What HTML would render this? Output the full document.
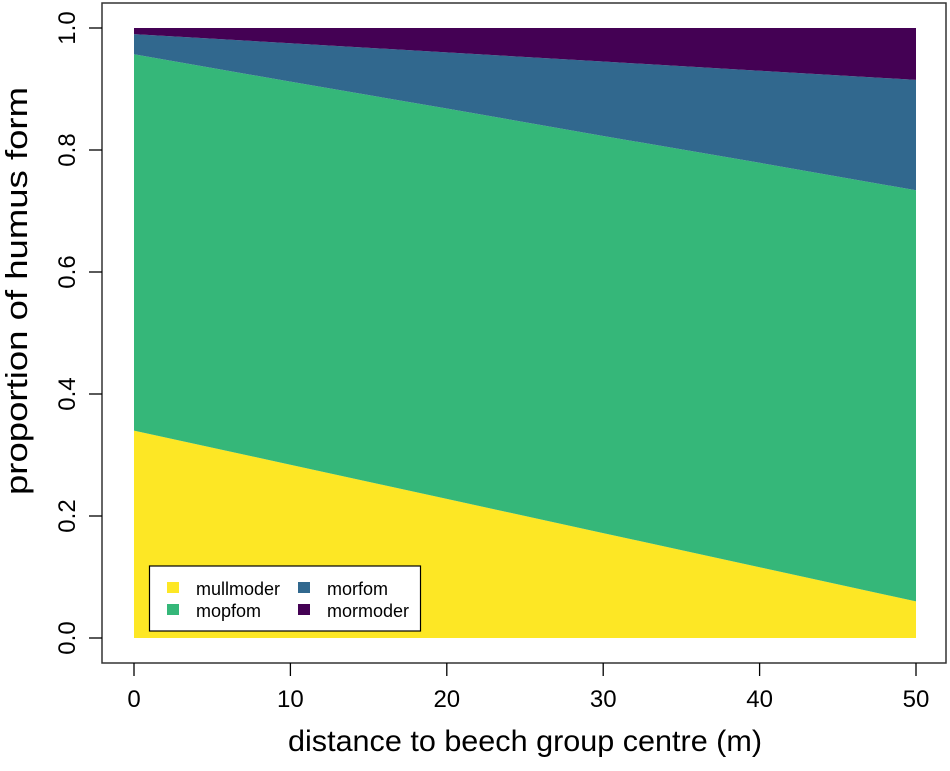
<!DOCTYPE html>
<html><head><meta charset="utf-8"><style>
body{margin:0;background:#fff;}
svg text{font-family:"Liberation Sans",Arial,sans-serif;fill:#000;}
</style></head><body>
<svg id="chart" width="950" height="766"></svg>
<script>
const distances=[0,10,20,30,40,50];
const mullmoder=[0.34,0.284,0.228,0.172,0.116,0.06];
const mopfom=[0.617,0.628,0.640,0.651,0.663,0.674];
const morfom=[0.033,0.063,0.092,0.122,0.151,0.181];
const mormoder=[0.01,0.025,0.04,0.055,0.07,0.085];
const xTicks=[0,10,20,30,40,50];
const yTicks=[0,0.2,0.4,0.6,0.8,1.0];
const yTickLabels=["0.0","0.2","0.4","0.6","0.8","1.0"];
const seriesNames=["mullmoder","mopfom","morfom","mormoder"];
const seriesColors=["#fde725","#35b779","#31688e","#440154"];

const NS="http://www.w3.org/2000/svg";
const svg=document.getElementById('chart');
const X=v=>134+(v-0)/50*(916-134);
const Y=v=>638-v*610;
function mk(t,a,p){const e=document.createElementNS(NS,t);for(const k in a)e.setAttribute(k,a[k]);(p||svg).appendChild(e);return e;}

const series=[mullmoder,mopfom,morfom,mormoder];
let base=distances.map(()=>0);
series.forEach((s,si)=>{
  const top=base.map((b,i)=>b+s[i]);
  let pts=distances.map((d,i)=>X(d)+','+Y(top[i]));
  for(let i=distances.length-1;i>=0;i--)pts.push(X(distances[i])+','+Y(base[i]));
  const p=mk('polygon',{points:pts.join(' '),fill:seriesColors[si]});
  
  
  base=top;
});

const box=mk('rect',{x:102,y:3,width:844,height:660,fill:'none',stroke:'#333','stroke-width':1.5});



xTicks.forEach(t=>{
  const l=mk('line',{x1:X(t),x2:X(t),y1:663,y2:676,stroke:'#000','stroke-width':1.3});
  
  
  const tx=mk('text',{x:X(t),y:707,'text-anchor':'middle','font-size':24});
  tx.textContent=t;
  
  
});
yTicks.forEach((t,i)=>{
  const l=mk('line',{x1:89,x2:102,y1:Y(t),y2:Y(t),stroke:'#000','stroke-width':1.3});
  
  
  const tx=mk('text',{x:0,y:0,'text-anchor':'middle','font-size':24,transform:`translate(75,${Y(t)}) rotate(-90)`});
  tx.textContent=yTickLabels[i];
  
  
});
const xt=mk('text',{x:525,y:751,'text-anchor':'middle','font-size':30,textLength:474,lengthAdjust:'spacingAndGlyphs'});
xt.textContent='distance to beech group centre (m)';


const yt=mk('text',{x:0,y:0,'text-anchor':'middle','font-size':31,textLength:408,lengthAdjust:'spacingAndGlyphs',transform:'translate(27,291) rotate(-90)'});
yt.textContent='proportion of humus form';



const lg=mk('g',{});


mk('rect',{x:149.5,y:566,width:271,height:65,fill:'#fff',stroke:'#000','stroke-width':1.2},lg);
const pos=[[167,589],[167,611],[298,589],[298,611]];
seriesNames.forEach((n,i)=>{
  const g=mk('g',{},lg);
  
  
  mk('rect',{x:pos[i][0],y:pos[i][1]-7,width:12,height:11,fill:seriesColors[i]},g);
  const t=mk('text',{x:pos[i][0]+29,y:pos[i][1]+6,'font-size':18},g);
  t.textContent=n;
});
</script>
</body></html>
